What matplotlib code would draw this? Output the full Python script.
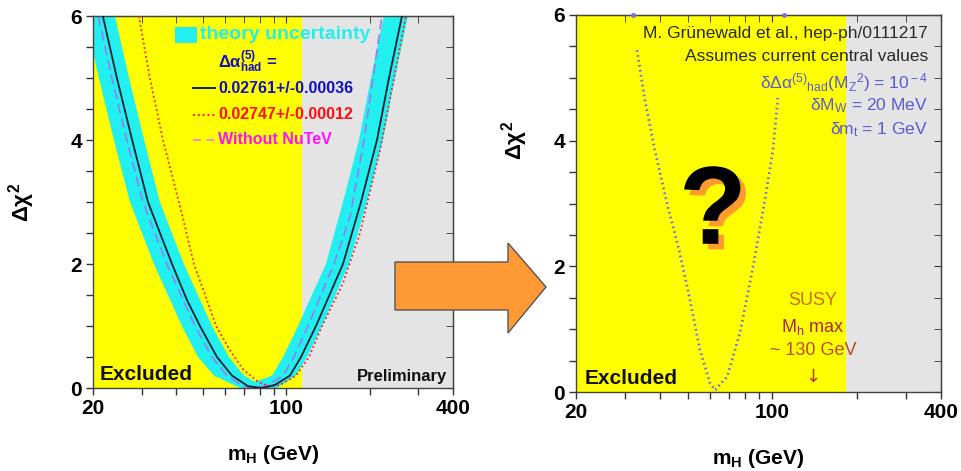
import matplotlib
matplotlib.use("Agg")
import matplotlib.pyplot as plt
import matplotlib.patheffects as pe
import numpy as np
from matplotlib.patches import Rectangle, Polygon
from matplotlib.ticker import NullFormatter, FixedLocator

plt.rcParams['font.family'] = ['Liberation Sans', 'DejaVu Sans']
plt.rcParams['mathtext.fontset'] = 'custom'
plt.rcParams['mathtext.rm'] = 'Liberation Sans'
plt.rcParams['mathtext.bf'] = 'Liberation Sans:bold'
plt.rcParams['mathtext.it'] = 'Liberation Sans:italic'

# ---- data (mH in GeV, delta chi^2) ----
lep_limit = 114.0          # yellow "Excluded" region ends here (left plot)
future_limit = 183.0       # yellow region ends here (right plot)

band_outer_m = [18.7, 21.0, 23.8, 27.2, 33.2, 41.9, 47.9, 54.7, 68.0, 92.5,
                108.3, 118.7, 134.5, 168.3, 195.5, 223.4, 246.9, 275.0]
band_outer_chi = [6, 5, 4, 3, 2, 1, 0.5, 0.2, 0, 0, 0.2, 0.5, 1, 2, 3, 4, 5, 6]
band_inner_m = [24.0, 27.0, 30.6, 34.9, 42.6, 53.8, 62.0, 70.3, 77.0, 88.7,
                97.2, 110.1, 139.0, 160.1, 182.9, 202.1, 225.2]
band_inner_chi = [6, 5, 4, 3, 2, 1, 0.5, 0.2, 0.1, 0.2, 0.5, 1, 2, 3, 4, 5, 6]

fit_m = [21.7, 24.4, 27.7, 31.6, 38.6, 43.7, 48.7, 56.1, 63.6, 72.6, 81.6,
         90.9, 103.0, 112.9, 127.9, 160.1, 186.0, 212.5, 234.8, 261.6]
fit_chi = [6, 5, 4, 3, 2, 1.42, 1, 0.5, 0.2, 0.03, 0, 0.05, 0.2, 0.5, 1, 2,
           3, 4, 5, 6]

alt_m = [29.3, 32.1, 35.8, 41.6, 46.3, 51.6, 55.7, 62.5, 69.7, 78.9, 87.2,
         94.8, 108.3, 120.7, 134.5, 160.1, 184.5, 217.9, 244.8, 270.5]
alt_chi = [6, 5, 4, 2.87, 2, 1.42, 1, 0.61, 0.3, 0.1, 0.02, 0.05, 0.2, 0.5,
           1, 1.69, 2.5, 3.84, 5, 6]

nonutev_m = [20.9, 23.4, 26.5, 30.3, 37.0, 46.7, 53.8, 61.0, 69.7, 77.6,
             85.8, 97.2, 106.5, 119.7, 148.6, 169.7, 190.7, 205.5, 221.5]
nonutev_chi = [6, 5, 4, 3, 2, 1, 0.5, 0.2, 0.03, 0, 0.05, 0.2, 0.5, 1, 2,
               2.76, 4, 5, 6]

future_m = [33.0, 35.2, 38.2, 42.2, 46.6, 51.0, 55.3, 60.1, 62.6, 69.1, 76.8,
            85.5, 94.3, 100.7, 104.9]
future_chi = [5.44, 4.65, 3.85, 3.0, 2.26, 1.46, 0.67, 0.14, 0.03, 0.24, 0.94,
              1.99, 3.06, 3.85, 4.7]
future_top_m = [31.9, 110.2]
future_top_chi = [6, 6]

xmin, xmax = 20, 400
major_x = [20, 100, 400]
minor_x = [30, 40, 50, 60, 70, 80, 90, 200, 300]

YELLOW = '#ffff00'
GREY = '#e4e4e4'
CYAN = '#22f0f0'
BLUE_TXT = '#1010c0'
LILAC = '#5a5ad8'

W, H = 962, 471
fig = plt.figure(figsize=(W / 100, H / 100), dpi=100)
axL = fig.add_axes([93 / W, 1 - 388 / H, 360 / W, 372 / H])
axR = fig.add_axes([576 / W, 1 - 392 / H, 365 / W, 377 / H])


def setup(ax):
    ax.set_xscale('log')
    ax.set_xlim(xmin, xmax)
    ax.set_ylim(0, 6)
    ax.xaxis.set_major_locator(FixedLocator(major_x))
    ax.xaxis.set_minor_locator(FixedLocator(minor_x))
    ax.xaxis.set_minor_formatter(NullFormatter())
    ax.set_xticklabels([str(v) for v in major_x])
    ax.set_yticks([0, 2, 4, 6])
    ax.set_yticks(np.arange(0, 6.01, 0.5), minor=True)
    ax.tick_params(which='both', direction='out', length=5, width=1,
                   labelsize=15, pad=3, color='#333333')
    for lab in ax.get_xticklabels() + ax.get_yticklabels():
        lab.set_fontweight('bold')
    for s in ax.spines.values():
        s.set_color('#444444')
        s.set_linewidth(1)
    # inward ticks on top and right
    top = ax.secondary_xaxis('top')
    top.xaxis.set_major_locator(FixedLocator(major_x))
    top.xaxis.set_minor_locator(FixedLocator(minor_x))
    top.tick_params(which='both', direction='in', length=5, labeltop=False,
                    color='#333333')
    top.xaxis.set_minor_formatter(NullFormatter())
    top.xaxis.set_major_formatter(NullFormatter())
    right = ax.secondary_yaxis('right')
    right.set_yticks([0, 2, 4, 6])
    right.set_yticks(np.arange(0, 6.01, 0.5), minor=True)
    right.tick_params(which='both', direction='in', length=5,
                      labelright=False, color='#333333')
    ax.set_xlabel(r'm$_\mathbf{H}$ (GeV)', fontsize=15, fontweight='bold',
                  labelpad=18)


# ---------------- left panel ----------------
setup(axL)
axL.axvspan(xmin, lep_limit, color=YELLOW, lw=0, zorder=0)
axL.axvspan(lep_limit, xmax, color=GREY, lw=0, zorder=0)
axL.fill(np.concatenate([band_outer_m, band_inner_m[::-1]]),
         np.concatenate([band_outer_chi, band_inner_chi[::-1]]),
         color=CYAN, lw=0, zorder=1)
axL.plot(nonutev_m, nonutev_chi, color='#9a7cf0', lw=1.2,
         ls=(0, (6, 3)), zorder=2)
axL.plot(alt_m, alt_chi, color='#ff2020', lw=1.3, ls=(0, (1, 1.5)), zorder=3)
axL.plot(fit_m, fit_chi, color='#0c2030', lw=1.3, zorder=4)
axL.set_ylabel(r'$\mathbf{\Delta\chi^2}$', fontsize=16, labelpad=24)

axL.text(0.019, 0.035, 'Excluded', transform=axL.transAxes, fontsize=15,
         fontweight='bold', ha='left', va='center', color='#111111')
axL.text(0.983, 0.030, 'Preliminary', transform=axL.transAxes, fontsize=12,
         fontweight='bold', ha='right', va='center', color='#111111')

# legend
axL.add_patch(Rectangle((0.228, 0.927), 0.061, 0.043, transform=axL.transAxes,
                        color=CYAN, lw=0, zorder=5))
axL.text(0.297, 0.949, 'theory uncertainty', transform=axL.transAxes,
         fontsize=14, fontweight='bold', color=CYAN, va='center', zorder=5)
axL.text(0.347, 0.876, r'$\mathbf{\Delta\alpha^{(5)}_{had}}$ =',
         transform=axL.transAxes, fontsize=12, fontweight='bold',
         color=BLUE_TXT, va='center', zorder=5)
rows = [(0.806, '0.02761+/-0.00036', BLUE_TXT, '#0c2030', '-'),
        (0.734, '0.02747+/-0.00012', '#ff1010', '#ff2020', (0, (1, 1.5))),
        (0.667, 'Without NuTeV', '#ff10ff', '#ff88cc', (0, (4, 3)))]
for y, label, tcol, lcol, ls in rows:
    axL.plot([0.278, 0.339], [y, y], transform=axL.transAxes, color=lcol,
             lw=1.4, ls=ls, zorder=5)
    axL.text(0.347, y, label, transform=axL.transAxes, fontsize=11.5,
             fontweight='bold', color=tcol, va='center', zorder=5)

# ---------------- right panel ----------------
setup(axR)
axR.axvspan(xmin, future_limit, color=YELLOW, lw=0, zorder=0)
axR.axvspan(future_limit, xmax, color=GREY, lw=0, zorder=0)
axR.plot(future_m, future_chi, color='#7070f0', lw=2, ls=(0, (0.6, 1.2)),
         zorder=3)
axR.plot(future_top_m, future_top_chi, ls='none', marker='o', ms=2.5,
         color='#7070f0', zorder=3, clip_on=False)

axR.text(0.025, 0.037, 'Excluded', transform=axR.transAxes, fontsize=15,
         fontweight='bold', ha='left', va='center', color='#111111')

TXT = '#2a2a2a'
axR.text(0.964, 0.952, 'M. Grünewald et al., hep-ph/0111217',
         transform=axR.transAxes, fontsize=12.5, ha='right', va='center',
         color=TXT)
axR.text(0.964, 0.889, 'Assumes current central values',
         transform=axR.transAxes, fontsize=12.5, ha='right', va='center',
         color=TXT)
axR.text(0.964, 0.822,
         r'δΔα$^{(5)}$$_{\rm had}$(M$_{\rm Z}$$^{2}$) = 10$^{\rm -4}$',
         transform=axR.transAxes, fontsize=12.5, ha='right', va='center',
         color=LILAC)
axR.text(0.964, 0.759, r'δM$_{\rm W}$ = 20 MeV', transform=axR.transAxes,
         fontsize=12.5, ha='right', va='center', color=LILAC)
axR.text(0.964, 0.695, r'δm$_{\rm t}$ = 1 GeV', transform=axR.transAxes,
         fontsize=12.5, ha='right', va='center', color=LILAC)

# question mark with orange shadow
axR.text(0.375, 0.47, '?', transform=axR.transAxes, fontsize=80,
         fontweight='bold', ha='center', va='center', color='black',
         path_effects=[pe.SimplePatchShadow(offset=(4, -4),
                                            shadow_rgbFace='#ff9a30',
                                            alpha=1.0),
                       pe.Normal()])

axR.text(0.649, 0.244, 'SUSY', transform=axR.transAxes, fontsize=13,
         ha='center', va='center', color='#d06a10')
axR.text(0.649, 0.172, r'M$_{\rm h}$ max', transform=axR.transAxes,
         fontsize=13, ha='center', va='center', color='#b0282a')
axR.text(0.649, 0.111, '~ 130 GeV', transform=axR.transAxes, fontsize=13,
         ha='center', va='center', color='#c04a20')
axR.text(0.649, 0.040, '↓', transform=axR.transAxes, fontsize=13,
         ha='center', va='center', color='#c03030',
         family=['DejaVu Sans'])

fig.text(515 / W, 1 - 140 / H, r'$\mathbf{\Delta\chi^2}$', fontsize=16,
         rotation=90, ha='center', va='center')

# big orange arrow between the panels
arrow_px = [(395, 262), (508, 262), (508, 243), (546, 287), (508, 333),
            (508, 310), (395, 310)]
arrow = Polygon([(x / W, 1 - y / H) for x, y in arrow_px], closed=True,
                transform=fig.transFigure, facecolor='#ff9933',
                edgecolor='#555555', lw=1, zorder=10)
fig.add_artist(arrow)

fig.savefig('out.png', dpi=100)
